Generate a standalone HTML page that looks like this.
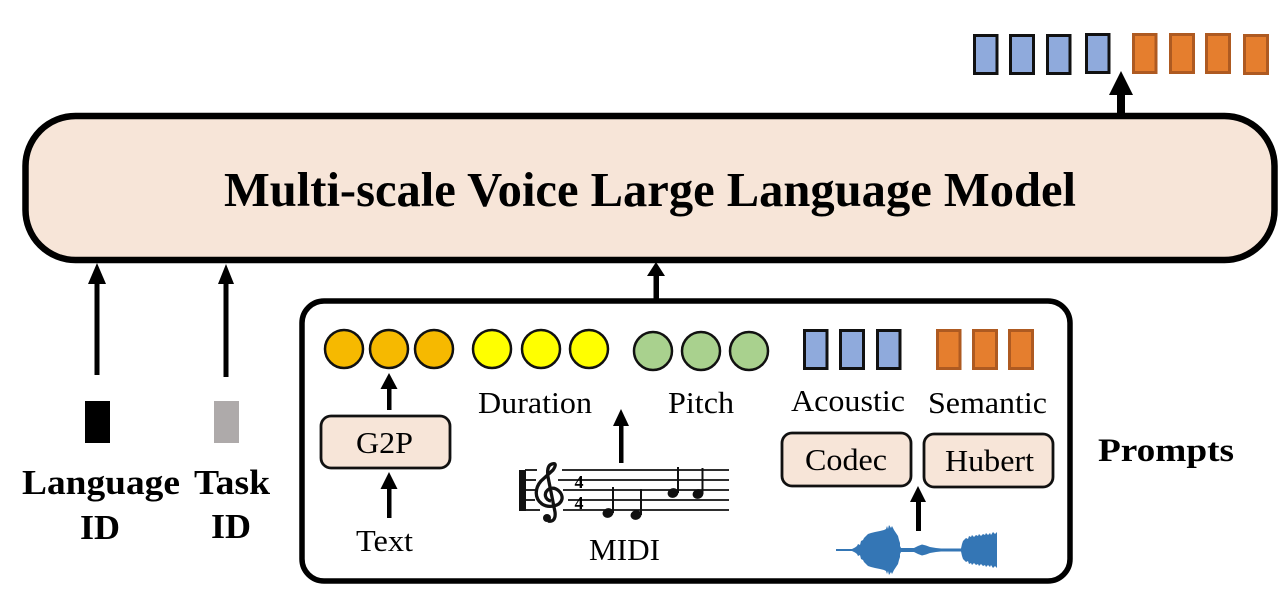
<!DOCTYPE html>
<html>
<head>
<meta charset="utf-8">
<style>
html,body{margin:0;padding:0;background:#fff;width:1287px;height:590px;overflow:hidden}
svg{display:block}
text{font-family:"Liberation Serif",serif;fill:#000}
.b{font-weight:bold}
</style>
</head>
<body>
<svg width="1287" height="590" viewBox="0 0 1287 590" xmlns="http://www.w3.org/2000/svg">
<rect width="1287" height="590" fill="#fff"/>

<!-- main box -->
<rect x="25.5" y="116" width="1249" height="144" rx="50" ry="50" fill="#f7e5d8" stroke="#000" stroke-width="6.5"/>
<text class="b" x="224" y="206" font-size="49" textLength="852" lengthAdjust="spacingAndGlyphs">Multi-scale Voice Large Language Model</text>

<!-- prompts box -->
<rect x="302" y="301" width="768" height="280" rx="22" ry="22" fill="#fff" stroke="#000" stroke-width="5.5"/>

<!-- top tokens -->
<g stroke="#111" stroke-width="3" fill="#8faadc">
<rect x="974.5" y="35.5" width="22.500" height="38"/>
<rect x="1010.500" y="35.500" width="23" height="38"/>
<rect x="1047.500" y="35.500" width="22.500" height="38"/>
<rect x="1086.500" y="34.500" width="22.500" height="38"/>
</g>
<g stroke="#ae5a21" stroke-width="3" fill="#e57e2e">
<rect x="1133.500" y="34.500" width="22.500" height="38"/>
<rect x="1170.500" y="34.500" width="23" height="38"/>
<rect x="1206.500" y="34.500" width="23" height="38"/>
<rect x="1244.500" y="35.500" width="23" height="38"/>
</g>
<!-- top arrow -->
<rect x="1117" y="94" width="8" height="20" fill="#000"/>
<polygon points="1121,71 1133,95 1109,95" fill="#000"/>

<!-- left arrows -->
<rect x="94.500" y="282" width="5" height="93" fill="#000"/>
<polygon points="97,263 106,284 88,284" fill="#000"/>
<rect x="223.500" y="282" width="5" height="95" fill="#000"/>
<polygon points="226,264 234,284 218,284" fill="#000"/>
<!-- center arrow -->
<rect x="653.500" y="274" width="5.500" height="26" fill="#000"/>
<polygon points="656,262 665,276 647,276" fill="#000"/>

<!-- ID boxes -->
<rect x="85" y="401" width="25" height="42" fill="#000"/>
<rect x="214" y="401" width="25" height="42" fill="#aeaaaa"/>
<text class="b" x="22" y="494" font-size="35" textLength="158" lengthAdjust="spacingAndGlyphs">Language</text>
<text class="b" x="194" y="494" font-size="35" textLength="76" lengthAdjust="spacingAndGlyphs">Task</text>
<text class="b" x="80" y="539" font-size="35" textLength="40" lengthAdjust="spacingAndGlyphs">ID</text>
<text class="b" x="211" y="538" font-size="35" textLength="40" lengthAdjust="spacingAndGlyphs">ID</text>
<text class="b" x="1098" y="461" font-size="33" textLength="136" lengthAdjust="spacingAndGlyphs">Prompts</text>

<!-- circles -->
<g stroke="#111" stroke-width="2.500" fill="#f6b900">
<circle cx="344" cy="349" r="19"/><circle cx="389" cy="349" r="19"/><circle cx="434" cy="349" r="19"/>
</g>
<g stroke="#111" stroke-width="2.500" fill="#ffff00">
<circle cx="492" cy="349" r="19"/><circle cx="541" cy="349" r="19"/><circle cx="589" cy="349" r="19"/>
</g>
<g stroke="#111" stroke-width="2.500" fill="#a9d18e">
<circle cx="653" cy="351" r="19"/><circle cx="701" cy="351" r="19"/><circle cx="749" cy="351" r="19"/>
</g>

<!-- small tokens -->
<g stroke="#111" stroke-width="3" fill="#8faadc">
<rect x="804.500" y="330.500" width="22.500" height="38"/>
<rect x="840.500" y="330.500" width="23" height="38"/>
<rect x="877.500" y="330.500" width="22.500" height="38"/>
</g>
<g stroke="#ae5a21" stroke-width="3" fill="#e57e2e">
<rect x="937.500" y="330.500" width="22.500" height="38"/>
<rect x="973.500" y="330.500" width="23" height="38"/>
<rect x="1009.500" y="330.500" width="23" height="38"/>
</g>

<!-- labels -->
<g font-size="31">
<text x="478" y="413" textLength="114" lengthAdjust="spacingAndGlyphs">Duration</text>
<text x="668" y="413" textLength="66" lengthAdjust="spacingAndGlyphs">Pitch</text>
<text x="791" y="411" textLength="114" lengthAdjust="spacingAndGlyphs">Acoustic</text>
<text x="928" y="413" textLength="119" lengthAdjust="spacingAndGlyphs">Semantic</text>
<text x="356" y="551" textLength="57" lengthAdjust="spacingAndGlyphs">Text</text>
<text x="589" y="560" textLength="71" lengthAdjust="spacingAndGlyphs">MIDI</text>
</g>

<!-- boxes -->
<g fill="#f7e5d8" stroke="#111" stroke-width="2.800">
<rect x="321" y="416" width="129" height="52" rx="10" ry="10"/>
<rect x="782" y="433" width="129" height="53" rx="10" ry="10"/>
<rect x="924" y="434" width="129" height="53" rx="10" ry="10"/>
</g>
<g font-size="31">
<text x="356" y="453" textLength="57" lengthAdjust="spacingAndGlyphs">G2P</text>
<text x="805" y="470" textLength="82" lengthAdjust="spacingAndGlyphs">Codec</text>
<text x="945" y="471" textLength="89" lengthAdjust="spacingAndGlyphs">Hubert</text>
</g>

<!-- small arrows -->
<g fill="#000">
<rect x="387" y="386" width="4.500" height="24"/>
<polygon points="389,373 397.500,389 380.500,389"/>
<rect x="387" y="486" width="4.500" height="32"/>
<polygon points="389,472 397.500,489 380.500,489"/>
<rect x="619" y="423" width="4.500" height="40"/>
<polygon points="621,409 629,426 613,426"/>
<rect x="916" y="500" width="5" height="31"/>
<polygon points="918,486 926,502 910,502"/>
</g>

<!-- staff -->
<g stroke="#111" stroke-width="1.800">
<line x1="562" y1="470" x2="729" y2="470"/>
<line x1="558" y1="480" x2="729" y2="480"/>
<line x1="563" y1="490" x2="729" y2="490"/>
<line x1="568" y1="500" x2="729" y2="500"/>
<line x1="563" y1="510" x2="729" y2="510"/>
<line x1="525" y1="470" x2="537" y2="470"/>
<line x1="525" y1="480" x2="536" y2="480"/>
<line x1="525" y1="490" x2="535" y2="490"/>
<line x1="525" y1="500" x2="535" y2="500"/>
<line x1="525" y1="510" x2="540" y2="510"/>
</g>
<rect x="519" y="470" width="7" height="41" fill="#111"/>
<path d="M551 501 C545 500 543 493 549 489 C556 486 563 493 562 499 C560 507 548 508 542 504 C534 498 535 488 541 481 L553 470 C557 464 555 463 552 464 C548 465 547 470 548 477 L555 512 C556 520 552 522 548 521" fill="none" stroke="#111" stroke-width="3.300"/>
<circle cx="547" cy="518" r="4" fill="#111"/>
<text class="b" x="574.500" y="488" font-size="18">4</text>
<text class="b" x="574.500" y="509" font-size="18">4</text>
<g fill="#111">
<ellipse cx="608" cy="513" rx="5.500" ry="4.800" transform="rotate(-20 608 513)"/>
<ellipse cx="636" cy="515" rx="5.500" ry="4.800" transform="rotate(-20 636 515)"/>
<ellipse cx="673" cy="493" rx="5.500" ry="4.800" transform="rotate(-20 673 493)"/>
<ellipse cx="698" cy="494" rx="5.500" ry="4.800" transform="rotate(-20 698 494)"/>
<rect x="612" y="487" width="2" height="26"/>
<rect x="640" y="489" width="2" height="26"/>
<rect x="677" y="467" width="2" height="26"/>
<rect x="701.500" y="468" width="2" height="26"/>
</g>

<!-- waveform -->
<polygon fill="#3476b5" points="836,549 852,549 855,547.500 857,546 858,544 860,545 861,541 863,540 864,538 866,536 868,534 871,533 875,532 880,531 884,530 886,529 887,526 888,529 889,525 891,528 892,526 894,530 896,533 898,536 899,540 900,543 900,546 901,548 908,548 914,548 918,546 922,544.500 926,545.500 930,547 936,548 941,548.500 961,548.500 962,544 963,541 964,540 966,538 968,539 969,536 971,537 972,535 974,537 976,535 978,536 979,534 981,536 983,534 985,535 986,533 988,535 990,533 991,535 993,532 995,534 997,532 997,568 995,566 993,568 991,565 990,567 988,565 986,567 985,565 983,566 981,564 979,566 978,564 976,565 974,563 972,565 971,563 969,564 968,561 966,562 964,560 963,559 962,556 961,551.500 941,551.500 936,552 930,553 926,554.500 922,555.500 918,554 914,552 908,552 901,552 900,554 900,557 899,560 898,564 896,567 894,570 892,574 891,572 889,575 888,571 887,574 886,571 884,570 880,569 875,568 871,567 868,566 866,564 864,562 863,560 861,559 860,555 858,556 857,554 855,552.500 852,551 836,551"/>
</svg>
</body>
</html>
